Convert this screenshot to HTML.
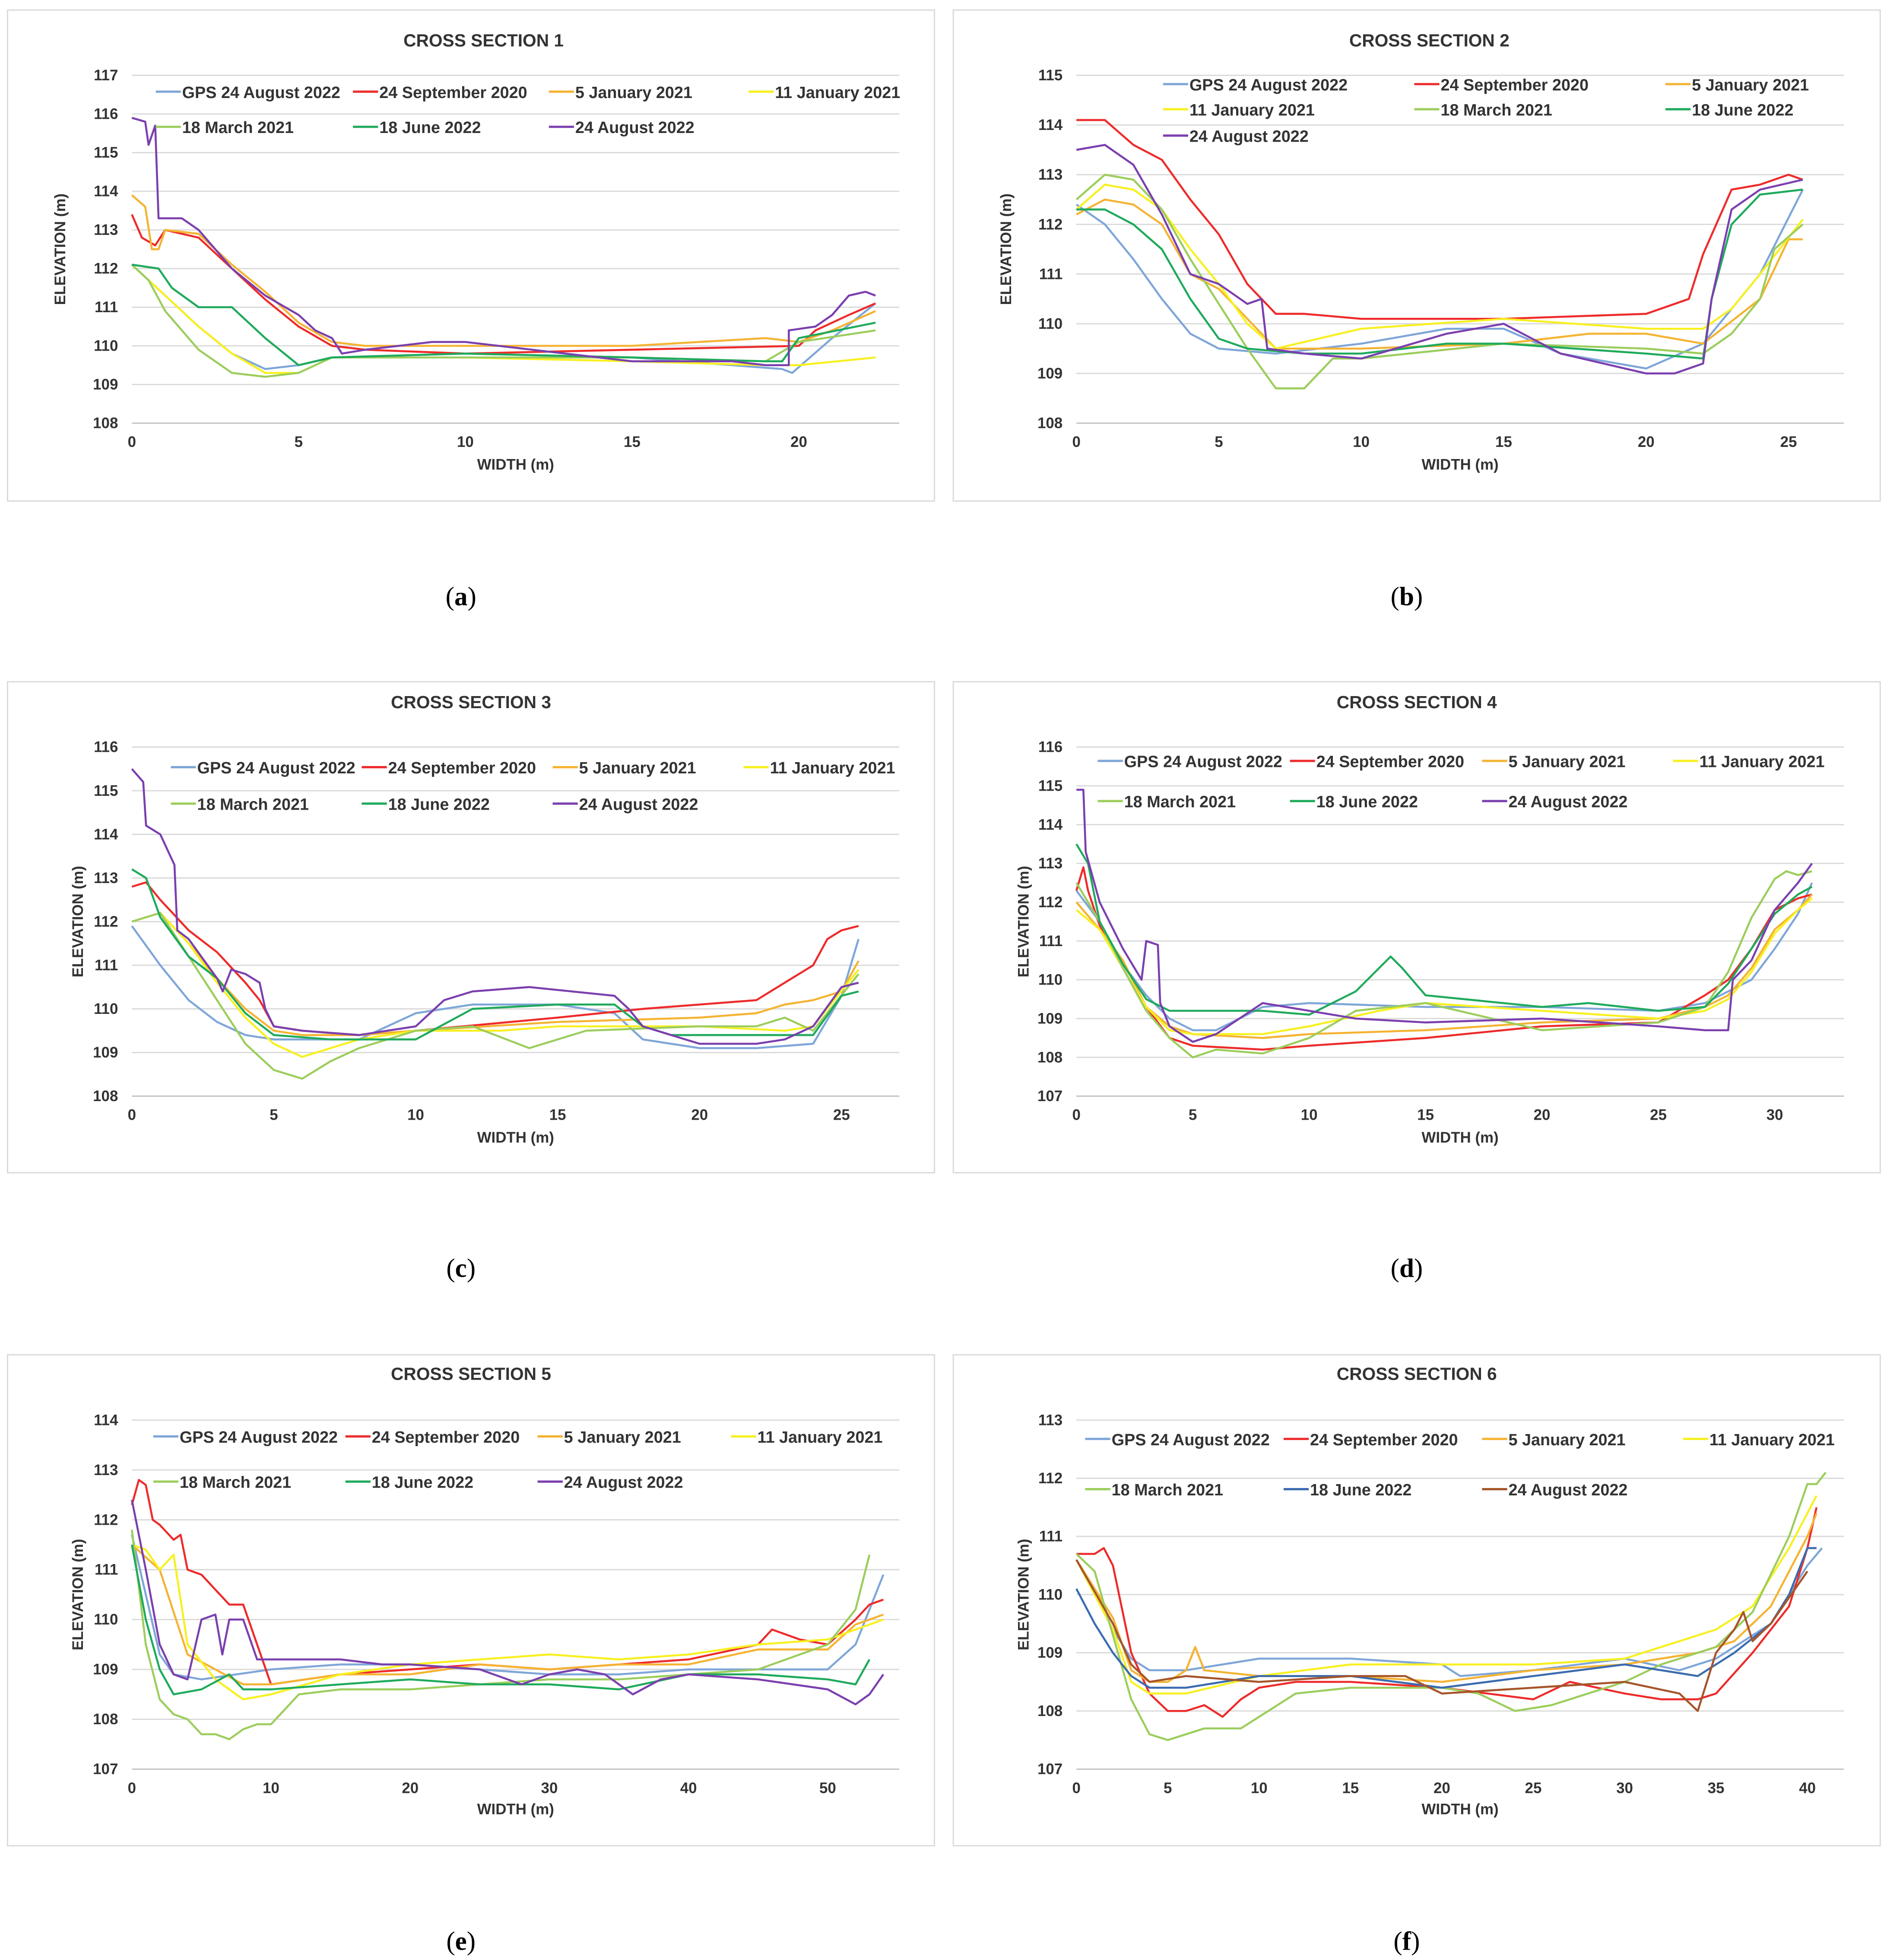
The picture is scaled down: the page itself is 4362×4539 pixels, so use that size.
<!DOCTYPE html>
<html><head><meta charset="utf-8">
<style>
html,body{margin:0;padding:0;background:#fff;}
svg{display:block;}
text{font-family:"Liberation Sans",Arial,sans-serif;}
</style></head>
<body>
<svg id="fig" width="4362" height="4539" viewBox="0 0 1500 1561" preserveAspectRatio="none" xmlns="http://www.w3.org/2000/svg"></svg>
<script>
// ---------- data ----------
const seriesNames = ["GPS 24 August 2022","24 September 2020","5 January 2021","11 January 2021","18 March 2021","18 June 2022","24 August 2022"];
const panelTitles = ["CROSS SECTION 1","CROSS SECTION 2","CROSS SECTION 3","CROSS SECTION 4","CROSS SECTION 5","CROSS SECTION 6"];
const captions = ["a","b","c","d","e","f"];

const cs1_gps=[[0,112.1],[1,111.3],[2,110.5],[3,109.8],[4,109.4],[5,109.5],[6,109.7],[10,109.8],[15,109.7],[19.5,109.4],[19.8,109.3],[21,110.2],[22.3,111.1]];
const cs1_sep20=[[0,113.4],[0.3,112.8],[0.7,112.6],[1,113.0],[2,112.8],[3,112.0],[4,111.2],[5,110.5],[6,110.0],[7,109.9],[10,109.8],[15,109.9],[20,110.0],[20.5,110.4],[21.5,110.8],[22.3,111.1]];
const cs1_jan5=[[0,113.9],[0.4,113.6],[0.6,112.5],[0.8,112.5],[1,113.0],[2,112.9],[3,112.1],[4,111.4],[5,110.6],[6,110.1],[7,110.0],[10,110.0],[15,110.0],[19,110.2],[20,110.1],[21,110.4],[22.3,110.9]];
const cs1_jan11=[[0,112.1],[1,111.3],[2,110.5],[3,109.8],[4,109.3],[5,109.3],[6,109.7],[10,109.7],[15,109.6],[19,109.5],[20,109.5],[22.3,109.7]];
const cs1_mar=[[0,112.1],[0.5,111.7],[1,110.9],[2,109.9],[3,109.3],[4,109.2],[5,109.3],[6,109.7],[10,109.7],[15,109.7],[19,109.6],[20,110.1],[22.3,110.4]];
const cs1_jun=[[0,112.1],[0.8,112.0],[1.2,111.5],[2,111.0],[3,111.0],[4,110.2],[5,109.5],[6,109.7],[10,109.8],[15,109.7],[19,109.6],[19.5,109.6],[20,110.2],[22.3,110.6]];
const cs1_aug=[[0,115.9],[0.4,115.8],[0.5,115.2],[0.7,115.7],[0.8,113.3],[1,113.3],[1.5,113.3],[2,113.0],[3,112.0],[4,111.3],[5,110.8],[5.5,110.4],[6,110.2],[6.3,109.8],[7,109.9],[8,110.0],[9,110.1],[10,110.1],[15,109.6],[18,109.6],[19,109.5],[19.7,109.5],[19.7,110.4],[20.5,110.5],[21,110.8],[21.5,111.3],[22,111.4],[22.3,111.3]];

const cs2_gps=[[0,112.4],[1,112.0],[2,111.3],[3,110.5],[4,109.8],[5,109.5],[7,109.4],[10,109.6],[13,109.9],[15,109.9],[17,109.4],[20,109.1],[22,109.6],[24,111.0],[25.5,112.7]];
const cs2_sep20=[[0,114.1],[1,114.1],[2,113.6],[3,113.3],[4,112.5],[5,111.8],[6,110.8],[7,110.2],[8,110.2],[10,110.1],[15,110.1],[20,110.2],[21.5,110.5],[22,111.4],[23,112.7],[24,112.8],[25,113.0],[25.5,112.9]];
const cs2_jan5=[[0,112.2],[1,112.5],[2,112.4],[3,112.0],[4,111.0],[5,110.7],[6,110.1],[7,109.5],[8,109.5],[10,109.5],[15,109.6],[18,109.8],[20,109.8],[22,109.6],[24,110.5],[25,111.7],[25.5,111.7]];
const cs2_jan11=[[0,112.3],[1,112.8],[2,112.7],[3,112.3],[4,111.5],[5,110.8],[6,110.0],[7,109.5],[10,109.9],[15,110.1],[20,109.9],[22,109.9],[23,110.3],[24,111.0],[25.5,112.1]];
const cs2_mar=[[0,112.5],[1,113.0],[2,112.9],[3,112.3],[4,111.3],[5,110.4],[6,109.5],[7,108.7],[8,108.7],[9,109.3],[10,109.3],[15,109.6],[20,109.5],[22,109.4],[23,109.8],[24,110.5],[24.5,111.5],[25.5,112.0]];
const cs2_jun=[[0,112.3],[1,112.3],[2,112.0],[3,111.5],[4,110.5],[5,109.7],[6,109.5],[8,109.4],[10,109.4],[13,109.6],[15,109.6],[20,109.4],[22,109.3],[22.3,110.5],[23,112.0],[24,112.6],[25.5,112.7]];
const cs2_aug=[[0,113.5],[1,113.6],[2,113.2],[3,112.2],[4,111.0],[5,110.8],[5.5,110.6],[6,110.4],[6.5,110.5],[6.7,109.5],[8,109.4],[10,109.3],[13,109.8],[15,110.0],[17,109.4],[20,109.0],[21,109.0],[22,109.2],[22.3,110.5],[23,112.3],[24,112.7],[25.5,112.9]];

const cs3_gps=[[0,111.9],[1,111.0],[2,110.2],[3,109.7],[4,109.4],[5,109.3],[8,109.3],[10,109.9],[12,110.1],[15,110.1],[17,109.9],[18,109.3],[20,109.1],[22,109.1],[24,109.2],[25,110.3],[25.6,111.6]];
const cs3_sep20=[[0,112.8],[0.5,112.9],[1,112.5],[2,111.8],[3,111.3],[4,110.6],[4.5,110.2],[5,109.6],[6,109.5],[8,109.4],[10,109.5],[15,109.8],[18,110.0],[20,110.1],[22,110.2],[23,110.6],[24,111.0],[24.5,111.6],[25,111.8],[25.6,111.9]];
const cs3_jan5=[[0,112.0],[1,112.2],[2,111.5],[3,110.7],[4,110.0],[5,109.5],[6,109.4],[8,109.4],[10,109.5],[15,109.7],[20,109.8],[22,109.9],[23,110.1],[24,110.2],[25,110.4],[25.6,111.1]];
const cs3_jan11=[[0,112.0],[1,112.2],[2,111.5],[3,110.6],[4,109.8],[5,109.2],[6,108.9],[7,109.1],[8,109.3],[10,109.5],[13,109.5],[15,109.6],[18,109.6],[20,109.6],[23,109.5],[24,109.6],[25.6,110.9]];
const cs3_mar=[[0,112.0],[1,112.2],[2,111.2],[3,110.2],[4,109.2],[5,108.6],[6,108.4],[7,108.8],[8,109.1],[10,109.5],[12,109.6],[14,109.1],[16,109.5],[20,109.6],[22,109.6],[23,109.8],[24,109.5],[25.6,110.8]];
const cs3_jun=[[0,113.2],[0.5,113.0],[1,112.1],[2,111.2],[3,110.7],[4,109.9],[5,109.4],[7,109.3],[10,109.3],[12,110.0],[15,110.1],[17,110.1],[18,109.6],[19,109.4],[22,109.4],[24,109.4],[25,110.3],[25.6,110.4]];
const cs3_aug=[[0,115.5],[0.4,115.2],[0.5,114.2],[1,114.0],[1.5,113.3],[1.6,111.8],[2,111.6],[3,110.7],[3.2,110.4],[3.5,110.9],[4,110.8],[4.5,110.6],[4.7,110.0],[5,109.6],[6,109.5],[8,109.4],[10,109.6],[11,110.2],[12,110.4],[14,110.5],[17,110.3],[17.5,110.0],[18,109.6],[20,109.2],[22,109.2],[23,109.3],[24,109.6],[25,110.5],[25.6,110.6]];

const cs4_gps=[[0,112.3],[1,111.5],[2,110.4],[3,109.6],[4,109.0],[5,108.7],[6,108.7],[8,109.3],[10,109.4],[15,109.3],[20,109.3],[25,109.2],[27,109.4],[29,110.0],[30,110.8],[31,111.7],[31.6,112.5]];
const cs4_sep20=[[0,112.3],[0.3,112.9],[0.5,112.3],[1,111.4],[2,110.3],[3,109.3],[4,108.5],[5,108.3],[8,108.2],[10,108.3],[15,108.5],[20,108.8],[25,108.9],[27,109.6],[28,110.0],[29,110.8],[30,111.8],[31,112.1],[31.6,112.2]];
const cs4_jan5=[[0,112.0],[1,111.3],[2,110.5],[3,109.3],[4,108.8],[5,108.6],[8,108.5],[10,108.6],[15,108.7],[20,108.9],[25,109.0],[27,109.3],[28,109.6],[29,110.3],[30,111.3],[31,111.8],[31.6,112.2]];
const cs4_jan11=[[0,111.8],[1,111.3],[2,110.3],[3,109.3],[4,108.7],[5,108.6],[8,108.6],[10,108.8],[13,109.2],[15,109.4],[20,109.2],[25,109.0],[27,109.2],[28,109.5],[29,110.2],[30,111.2],[31,111.8],[31.6,112.1]];
const cs4_mar=[[0,112.5],[1,111.5],[2,110.3],[3,109.2],[4,108.5],[5,108.0],[6,108.2],[8,108.1],[10,108.5],[12,109.2],[15,109.4],[20,108.7],[25,108.9],[27,109.3],[28,110.2],[29,111.6],[30,112.6],[30.5,112.8],[31,112.7],[31.6,112.8]];
const cs4_jun=[[0,113.5],[0.5,113.0],[1,111.5],[2,110.4],[3,109.5],[4,109.2],[8,109.2],[10,109.1],[12,109.7],[13.5,110.6],[14,110.3],[15,109.6],[20,109.3],[22,109.4],[25,109.2],[27,109.3],[28,109.9],[29,110.8],[30,111.7],[31,112.2],[31.6,112.4]];
const cs4_aug=[[0,114.9],[0.3,114.9],[0.4,113.3],[1,112.0],[2,110.8],[2.8,110.0],[3,111.0],[3.5,110.9],[3.6,109.4],[4,108.8],[5,108.4],[6,108.6],[8,109.4],[10,109.2],[12,109.0],[15,108.9],[20,109.0],[25,108.8],[27,108.7],[28,108.7],[28.2,110.0],[29,110.5],[30,111.8],[31,112.5],[31.6,113.0]];

const cs5_gps=[[0,111.7],[1,110.5],[2,109.3],[3,108.9],[5,108.8],[10,109.0],[15,109.1],[20,109.1],[25,109.0],[30,108.9],[35,108.9],[40,109.0],[45,109.0],[50,109.0],[52,109.5],[53,110.2],[54,110.9]];
const cs5_sep20=[[0,112.3],[0.5,112.8],[1,112.7],[1.5,112.0],[2,111.9],[3,111.6],[3.5,111.7],[4,111.0],[5,110.9],[6,110.6],[7,110.3],[8,110.3],[9,109.5],[10,108.7],[15,108.9],[20,109.0],[25,109.1],[30,109.0],[35,109.1],[40,109.2],[45,109.5],[46,109.8],[48,109.6],[50,109.5],[52,110.0],[53,110.3],[54,110.4]];
const cs5_jan5=[[0,111.5],[2,111.0],[4,109.3],[6,109.0],[8,108.7],[10,108.7],[15,108.9],[20,108.9],[25,109.1],[30,109.0],[35,109.1],[40,109.1],[45,109.4],[50,109.4],[52,109.9],[54,110.1]];
const cs5_jan11=[[0,111.5],[1,111.4],[2,111.0],[3,111.3],[4,109.5],[6,108.8],[8,108.4],[10,108.5],[15,108.9],[20,109.1],[25,109.2],[30,109.3],[35,109.2],[40,109.3],[45,109.5],[50,109.6],[52,109.8],[54,110.0]];
const cs5_mar=[[0,111.8],[1,109.5],[2,108.4],[3,108.1],[4,108.0],[5,107.7],[6,107.7],[7,107.6],[8,107.8],[9,107.9],[10,107.9],[12,108.5],[15,108.6],[20,108.6],[25,108.7],[30,108.8],[35,108.8],[40,108.9],[45,109.0],[48,109.3],[50,109.5],[52,110.2],[53,111.3]];
const cs5_jun=[[0,111.5],[1,110.0],[2,109.0],[3,108.5],[5,108.6],[7,108.9],[8,108.6],[10,108.6],[15,108.7],[20,108.8],[25,108.7],[30,108.7],[35,108.6],[40,108.9],[45,108.9],[50,108.8],[52,108.7],[53,109.2]];
const cs5_aug=[[0,112.4],[1,111.0],[2,109.5],[3,108.9],[4,108.8],[5,110.0],[6,110.1],[6.5,109.3],[7,110.0],[8,110.0],[9,109.2],[10,109.2],[15,109.2],[18,109.1],[20,109.1],[25,109.0],[28,108.7],[30,108.9],[32,109.0],[34,108.9],[36,108.5],[38,108.8],[40,108.9],[45,108.8],[50,108.6],[52,108.3],[53,108.5],[54,108.9]];

const cs6_gps=[[0,110.6],[1,110.0],[2,109.4],[3,108.9],[4,108.7],[6,108.7],[10,108.9],[15,108.9],[20,108.8],[21,108.6],[25,108.7],[30,108.9],[33,108.7],[35,108.9],[38,109.5],[40,110.5],[40.8,110.8]];
const cs6_sep20=[[0,110.7],[1,110.7],[1.5,110.8],[2,110.5],[3,109.0],[4,108.3],[5,108.0],[6,108.0],[7,108.1],[8,107.9],[9,108.2],[10,108.4],[12,108.5],[15,108.5],[20,108.4],[25,108.2],[27,108.5],[30,108.3],[32,108.2],[34,108.2],[35,108.3],[37,109.0],[39,109.8],[40,110.8],[40.5,111.5]];
const cs6_jan5=[[0,110.6],[2,109.6],[3,108.7],[4,108.5],[5,108.5],[6,108.7],[6.5,109.1],[7,108.7],[10,108.6],[15,108.6],[20,108.5],[25,108.7],[30,108.8],[34,109.0],[36,109.2],[38,109.8],[40,111.0],[40.5,111.4]];
const cs6_jan11=[[0,110.6],[2,109.4],[3,108.5],[4,108.3],[6,108.3],[10,108.6],[15,108.8],[20,108.8],[25,108.8],[30,108.9],[33,109.2],[35,109.4],[37,109.8],[39,110.8],[40.5,111.7]];
const cs6_mar=[[0,110.7],[1,110.4],[2,109.3],[3,108.2],[4,107.6],[5,107.5],[7,107.7],[9,107.7],[10,107.9],[12,108.3],[15,108.4],[20,108.4],[22,108.3],[24,108.0],[26,108.1],[28,108.3],[30,108.5],[32,108.8],[35,109.1],[37,109.7],[39,111.0],[40,111.9],[40.5,111.9],[41,112.1]];
const cs6_jun=[[0,110.1],[1,109.5],[2,109.0],[3,108.6],[4,108.4],[6,108.4],[8,108.5],[10,108.6],[15,108.6],[20,108.4],[25,108.6],[30,108.8],[32,108.7],[34,108.6],[36,109.0],[38,109.5],[39,110.0],[40,110.8],[40.5,110.8]];
const cs6_aug=[[0,110.6],[2,109.5],[3,108.8],[4,108.5],[6,108.6],[10,108.5],[15,108.6],[18,108.6],[20,108.3],[25,108.4],[30,108.5],[33,108.3],[34,108.0],[35,109.0],[36,109.4],[36.5,109.7],[37,109.2],[38,109.5],[40,110.4]];

const panelSeries = [
 [cs1_gps,cs1_sep20,cs1_jan5,cs1_jan11,cs1_mar,cs1_jun,cs1_aug],
 [cs2_gps,cs2_sep20,cs2_jan5,cs2_jan11,cs2_mar,cs2_jun,cs2_aug],
 [cs3_gps,cs3_sep20,cs3_jan5,cs3_jan11,cs3_mar,cs3_jun,cs3_aug],
 [cs4_gps,cs4_sep20,cs4_jan5,cs4_jan11,cs4_mar,cs4_jun,cs4_aug],
 [cs5_gps,cs5_sep20,cs5_jan5,cs5_jan11,cs5_mar,cs5_jun,cs5_aug],
 [cs6_gps,cs6_sep20,cs6_jan5,cs6_jan11,cs6_mar,cs6_jun,cs6_aug]
];
const xTickStep=[5,5,5,5,10,5];
const xTickMax=[20,25,25,30,50,40];
const yMin=[108,108,108,107,107,107];
const yMax=[117,115,116,116,114,113];

// ---------- layout ----------
const colorsStd=["#7ea6d8","#ee2b2b","#f5b332","#f7f020","#9ccd5c","#1faa5c","#7b3fae"];
const colorsF=["#7ea6d8","#ee2b2b","#f5b332","#f7f020","#9ccd5c","#3a6bb0","#a5552a"];
const L=[
 {bx:6,by:8,x0:105,x1:636,right:716,yT:60,yB:337,tx:385,ty:32,ax:48,wy:370,cap:[367,475],
  leg:[[124,73],[281,73],[437,73],[596,73],[124,101],[281,101],[437,101]]},
 {bx:759,by:8,x0:857,x1:1424,right:1468,yT:60,yB:337,tx:1138,ty:32,ax:801,wy:370,cap:[1120,475],
  leg:[[926,67],[1126,67],[1326,67],[926,87],[1126,87],[1326,87],[926,108]]},
 {bx:6,by:543,x0:105,x1:670,right:716,yT:595,yB:873,tx:375,ty:559,ax:62,wy:906,cap:[367,1010],
  leg:[[136,611],[288,611],[440,611],[592,611],[136,640],[288,640],[440,640]]},
 {bx:759,by:543,x0:857,x1:1413,right:1468,yT:595,yB:873,tx:1128,ty:559,ax:815,wy:906,cap:[1120,1010],
  leg:[[874,606],[1027,606],[1180,606],[1332,606],[874,638],[1027,638],[1180,638]]},
 {bx:6,by:1079,x0:105,x1:659,right:716,yT:1131,yB:1409,tx:375,ty:1094,ax:62,wy:1441,cap:[367,1546],
  leg:[[122,1144],[275,1144],[428,1144],[582,1144],[122,1180],[275,1180],[428,1180]]},
 {bx:759,by:1079,x0:857,x1:1439,right:1468,yT:1131,yB:1409,tx:1128,ty:1094,ax:815,wy:1441,cap:[1120,1546],
  leg:[[864,1146],[1022,1146],[1180,1146],[1340,1146],[864,1186],[1022,1186],[1180,1186]]}
];

const NS="http://www.w3.org/2000/svg";
const svg=document.getElementById('fig');
function mk(tag,attrs,parent){const e=document.createElementNS(NS,tag);for(const k in attrs)e.setAttribute(k,attrs[k]);(parent||svg).appendChild(e);return e;}

L.forEach((p,i)=>{
  const g=mk('g',{});
  
  
  const box=mk('rect',{x:p.bx,y:p.by,width:738,height:391,fill:'#fff',stroke:'#d9d9d9','stroke-width':1},g);
  
  
  const xScale=v=>p.x0+(v/xTickMax[i])*(p.x1-p.x0);
  const yScale=v=>p.yB-(v-yMin[i])/(yMax[i]-yMin[i])*(p.yB-p.yT);
  // gridlines + y ticks
  for(let v=yMin[i];v<=yMax[i];v++){
    const y=yScale(v);
    const gl=mk('line',{x1:p.x0,x2:p.right,y1:y,y2:y,stroke:v===yMin[i]?'#bfbfbf':'#d9d9d9','stroke-width':1},g);
    
    
    const t=mk('text',{x:p.x0-11,y:y+4,'text-anchor':'end','font-size':12,'font-weight':'bold',fill:'#333'},g);
    t.textContent=v;
    
    
  }
  for(let v=0;v<=xTickMax[i];v+=xTickStep[i]){
    const t=mk('text',{x:xScale(v),y:p.yB+19,'text-anchor':'middle','font-size':12,'font-weight':'bold',fill:'#333'},g);
    t.textContent=v;
    
    
  }
  const tt=mk('text',{x:p.tx,y:p.ty+5,'text-anchor':'middle','font-size':14,'font-weight':'bold',fill:'#333'},g);
  tt.textContent=panelTitles[i];
  
  
  const yc=(p.yT+p.yB)/2;
  const yt=mk('text',{x:p.ax,y:yc,'text-anchor':'middle','font-size':12,'font-weight':'bold',fill:'#333',transform:`rotate(-90 ${p.ax} ${yc})`,dy:4},g);
  yt.textContent='ELEVATION (m)';
  
  
  const xt=mk('text',{x:(p.x0+p.right)/2,y:p.wy+4,'text-anchor':'middle','font-size':12,'font-weight':'bold',fill:'#333'},g);
  xt.textContent='WIDTH (m)';
  
  
  const cols=i===5?colorsF:colorsStd;
  panelSeries[i].forEach((s,k)=>{
    const d=s.map((pt,j)=>(j?'L':'M')+xScale(pt[0]).toFixed(2)+' '+yScale(pt[1]).toFixed(2)).join(' ');
    const path=mk('path',{d:d,fill:'none',stroke:cols[k],'stroke-width':1.6,'stroke-linejoin':'round'},g);
    
    
  });
  p.leg.forEach((lp,k)=>{
    const lg=mk('g',{},g);
    
    
    mk('line',{x1:lp[0],x2:lp[0]+20,y1:lp[1],y2:lp[1],stroke:cols[k],'stroke-width':1.8},lg);
    const t=mk('text',{x:lp[0]+21,y:lp[1]+5,'font-size':13,'font-weight':'bold',fill:'#333'},lg);
    t.textContent=seriesNames[k];
  });
  const c=mk('text',{x:p.cap[0],y:p.cap[1]+7,'text-anchor':'middle','font-size':21,fill:'#000','font-family':'Liberation Serif, serif'},svg);
  
  
  c.setAttribute('style','font-family:"Liberation Serif",serif');
  c.innerHTML='(<tspan font-weight="bold">'+captions[i]+'</tspan>)';
});
</script>
</body></html>
